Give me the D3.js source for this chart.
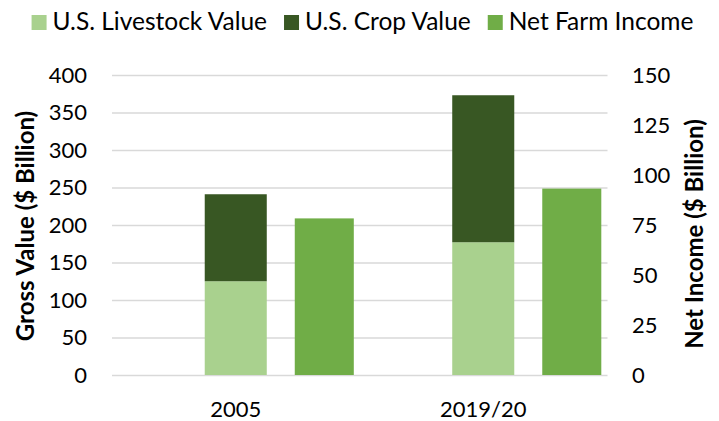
<!DOCTYPE html>
<html>
<head>
<meta charset="utf-8">
<script src="https://cdn.jsdelivr.net/npm/d3@7"></script>
<style>
  body { margin: 0; background: #fff; }
  text { font-family: Lato, "Noto Sans", sans-serif; fill: #000; }
</style>
</head>
<body>
<script>
// data
var categories = ["2005", "2019/20"];
var livestock = [125, 177];   // $ billion, left axis
var crop = [116, 196];        // $ billion, stacked on livestock
var netIncome = [78.3, 93.2]; // $ billion, right axis
var leftTicks = [0, 50, 100, 150, 200, 250, 300, 350, 400];
var rightTicks = [0, 25, 50, 75, 100, 125, 150];

var colors = {livestock: "#a9d18e", crop: "#385723", net: "#70ad47"};
var legendItems = [
  {label: "U.S. Livestock Value", color: colors.livestock},
  {label: "U.S. Crop Value", color: colors.crop},
  {label: "Net Farm Income", color: colors.net}
];

var width = 719, height = 421;
var margin = {top: 75, right: 112, bottom: 46, left: 112};

var svg = d3.select("body").append("svg")
    .attr("width", width)
    .attr("height", height);

var x0 = d3.scaleBand()
    .domain(categories)
    .range([margin.left, width - margin.right]);

var x1 = d3.scaleBand()
    .domain(["blank", "stack", "net"])
    .range([0, x0.bandwidth()])
    .paddingInner(0.311)
    .paddingOuter(0.03);

var yLeft = d3.scaleLinear()
    .domain([0, 400])
    .range([height - margin.bottom, margin.top]);

var yRight = d3.scaleLinear()
    .domain([0, 150])
    .range([height - margin.bottom, margin.top]);

// gridlines
svg.append("g")
    .attr("transform", "translate(" + margin.left + ",0)")
    .call(d3.axisLeft(yLeft).tickValues(leftTicks)
      .tickSize(-(width - margin.left - margin.right + 0.5)).tickFormat(""))
    .call(function(g) { g.select(".domain").remove(); })
    .selectAll("line")
      .attr("stroke", "#d9d9d9")
      .attr("stroke-width", 1.4);

// stacked bars
var stackData = categories.map(function(c, i) {
  return {cat: c, livestock: livestock[i], crop: crop[i]};
});
var series = d3.stack().keys(["livestock", "crop"])(stackData);

svg.append("g").selectAll("g")
    .data(series)
  .enter().append("g")
    .attr("fill", function(d) { return colors[d.key]; })
  .selectAll("rect")
    .data(function(d) { return d; })
  .enter().append("rect")
    .attr("x", function(d) { return x0(d.data.cat) + x1("stack"); })
    .attr("y", function(d) { return yLeft(d[1]); })
    .attr("width", x1.bandwidth())
    .attr("height", function(d) { return yLeft(d[0]) - yLeft(d[1]); });

// net income bars on secondary axis
svg.append("g").selectAll("rect")
    .data(netIncome)
  .enter().append("rect")
    .attr("fill", colors.net)
    .attr("x", function(d, i) { return x0(categories[i]) + x1("net"); })
    .attr("y", function(d) { return yRight(d); })
    .attr("width", x1.bandwidth() - 3)
    .attr("height", function(d) { return yRight(0) - yRight(d); });

// left axis labels
var fs = 22;
svg.append("g")
    .attr("transform", "translate(" + (margin.left - 25) + ",0)")
    .call(d3.axisLeft(yLeft).tickValues(leftTicks).tickSize(0).tickPadding(0))
    .call(function(g) { g.select(".domain").remove(); })
    .selectAll("text")
      .style("font-size", fs + "px")
      .attr("font-family", null);

// right axis labels
svg.append("g")
    .attr("transform", "translate(" + (width - margin.right + 25) + ",0)")
    .call(d3.axisRight(yRight).tickValues(rightTicks).tickSize(0).tickPadding(0))
    .call(function(g) { g.select(".domain").remove(); })
    .selectAll("text")
      .style("font-size", fs + "px")
      .attr("font-family", null);

// category labels
svg.append("g")
    .attr("transform", "translate(0," + (height - margin.bottom + 26) + ")")
    .call(d3.axisBottom(x0).tickSize(0).tickPadding(0))
    .call(function(g) { g.select(".domain").remove(); })
    .selectAll("text")
      .style("font-size", fs + "px")
      .attr("font-family", null)
      .attr("dy", "0.71em");

// axis titles
svg.append("text")
    .attr("transform", "translate(34,226)rotate(-90)")
    .attr("text-anchor", "middle")
    .style("font-size", "24px")
    .style("font-weight", "bold")
    .text("Gross Value ($ Billion)");

svg.append("text")
    .attr("transform", "translate(703,234)rotate(-90)")
    .attr("text-anchor", "middle")
    .style("font-size", "24px")
    .style("font-weight", "bold")
    .text("Net Income ($ Billion)");

// legend, laid out from measured text widths
var legend = svg.append("g");
var item = legend.selectAll("g")
    .data(legendItems)
  .enter().append("g");
item.append("rect")
    .attr("width", 15)
    .attr("height", 15)
    .attr("y", 15)
    .attr("fill", function(d) { return d.color; });
item.append("text")
    .attr("x", 21)
    .attr("y", 30)
    .style("font-size", "24.5px")
    .text(function(d) { return d.label; });

var xpos = 0;
item.each(function() {
  var w = d3.select(this).select("text").node().getComputedTextLength();
  d3.select(this).attr("transform", "translate(" + xpos + ",0)");
  xpos += 21 + w + 17;
});
var total = xpos - 17;
legend.attr("transform", "translate(" + (362.5 - total / 2) + ",0)");
</script>
</body>
</html>
